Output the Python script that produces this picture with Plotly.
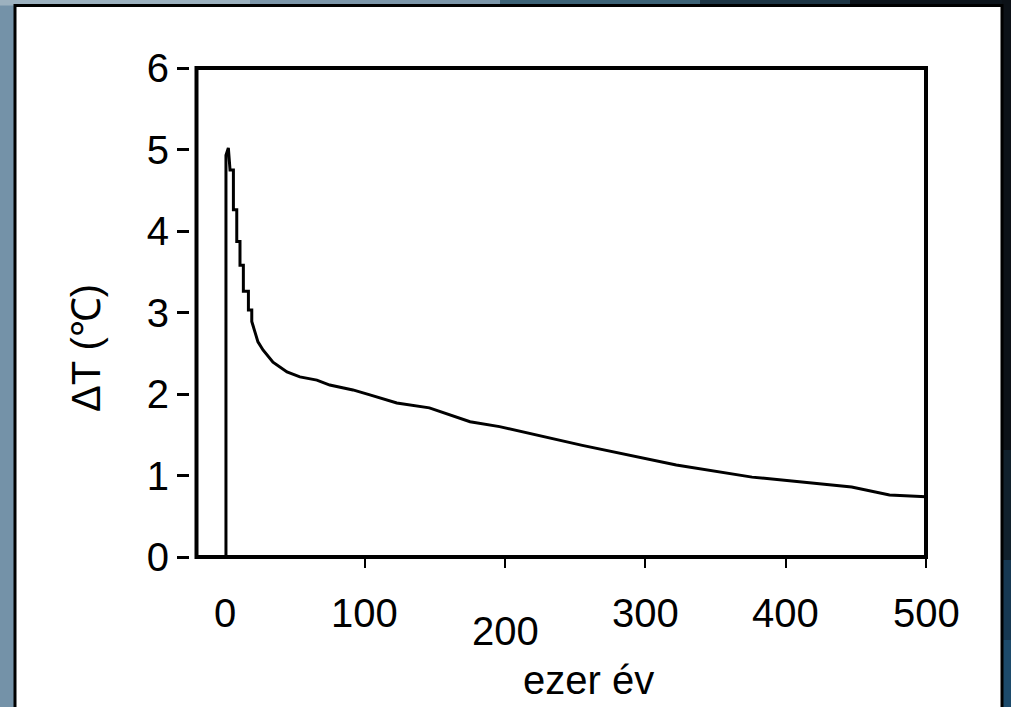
import plotly.graph_objects as go

# Temperature anomaly after the pulse, thousands of years
years = [1, 1, 2.7, 3.9, 6.3, 6.3, 8.7, 8.7, 11, 11, 13.4, 13.4, 17, 17, 19.4, 19.4,
         23.8, 27.4, 34.5, 44.5, 53.7, 65.8, 75, 91.5, 103.6, 122.8,
         146, 175, 196, 255, 322, 376, 447, 474, 500]
delta_t = [0, 4.93, 5.02, 4.75, 4.75, 4.26, 4.26, 3.87, 3.87, 3.58, 3.58, 3.26, 3.26, 3.03, 3.03, 2.89,
           2.64, 2.54, 2.39, 2.27, 2.21, 2.17, 2.11, 2.05, 1.99, 1.89,
           1.83, 1.66, 1.60, 1.37, 1.13, 0.98, 0.86, 0.76, 0.74]

x_tick_vals = [0, 100, 200, 300, 400, 500]
x_tick_labels = ["0", "100", "200", "300", "400", "500"]
y_tick_vals = [0, 1, 2, 3, 4, 5, 6]

# page geometry (pixels)
FIG_W, FIG_H = 1011, 707
L, R, T, B = 189, 85, 68, 150
PW, PH = FIG_W - L - R, FIG_H - T - B


def fx(px):
    return (px - L) / PW


def fy(py):
    return (FIG_H - B - py) / PH


FONT = "Liberation Sans, Arial, sans-serif"

fig = go.Figure()
fig.add_trace(go.Scatter(x=years, y=delta_t, mode="lines",
                         line=dict(color="black", width=3), showlegend=False,
                         hoverinfo="skip"))

shapes = []
# backdrop strips around the white card
shapes.append(dict(type="rect", xref="paper", yref="paper", x0=fx(-5), x1=fx(15),
                   y0=fy(715), y1=fy(-5), fillcolor="#7492a8", line_width=0, layer="below"))
for (a, b, c) in [(-5, 250, "#9cb1bf"), (250, 500, "#7c96a9"), (500, 700, "#3d6377"),
                  (700, 850, "#1d3545"), (850, 1016, "#0d141b")]:
    shapes.append(dict(type="rect", xref="paper", yref="paper", x0=fx(a), x1=fx(b),
                       y0=fy(5.5), y1=fy(-5), fillcolor=c, line_width=0, layer="below"))
for (a, b, c) in [(-5, 450, "#0c1117"), (450, 560, "#10202c"), (560, 640, "#163852"),
                  (640, 715, "#1c4a6b")]:
    shapes.append(dict(type="rect", xref="paper", yref="paper", x0=fx(1002), x1=fx(1016),
                       y0=fy(b), y1=fy(a), fillcolor=c, line_width=0, layer="below"))
# white card
shapes.append(dict(type="rect", xref="paper", yref="paper", x0=fx(15), x1=fx(1002),
                   y0=fy(720), y1=fy(5.5), fillcolor="white",
                   line=dict(color="black", width=3), layer="below"))
# plot frame
shapes.append(dict(type="rect", xref="x domain", yref="y domain", x0=0, x1=1, y0=0, y1=1,
                   line=dict(color="black", width=4), layer="above"))

annotations = []
label_drop = {200: 18}
for v, lab in zip(x_tick_vals, x_tick_labels):
    annotations.append(dict(x=v, xref="x", y=0, yref="paper", text=lab, showarrow=False,
                            yanchor="middle", xanchor="center",
                            yshift=-56 - label_drop.get(v, 0),
                            font=dict(family=FONT, size=40, color="black")))
annotations.append(dict(x=fx(86), y=fy(348), xref="paper", yref="paper", text="ΔT (℃)",
                        textangle=-90, showarrow=False, xanchor="center", yanchor="middle",
                        font=dict(family=FONT, size=40, color="black")))
annotations.append(dict(x=fx(588), y=fy(680), xref="paper", yref="paper", text="ezer év",
                        showarrow=False, xanchor="center", yanchor="middle",
                        font=dict(family=FONT, size=40, color="black")))

fig.update_layout(
    width=FIG_W, height=FIG_H,
    margin=dict(l=L, r=R, t=T, b=B, pad=0),
    paper_bgcolor="#0d141b", plot_bgcolor="white",
    shapes=shapes, annotations=annotations,
    xaxis=dict(range=[-20, 500], domain=[7.5 / PW, 1], showgrid=False, zeroline=False,
               showline=False, ticks="outside", tickvals=x_tick_vals[1:], ticklen=10,
               tickwidth=2, tickcolor="black", showticklabels=False, anchor="y"),
    yaxis=dict(range=[0, 6], anchor="free", position=0, showgrid=False, zeroline=False,
               showline=False, ticks="outside", tickvals=y_tick_vals, ticklen=12,
               tickwidth=2.5, tickcolor="black",
               tickfont=dict(family=FONT, size=40, color="black")),
)

fig.write_html("out.html")
